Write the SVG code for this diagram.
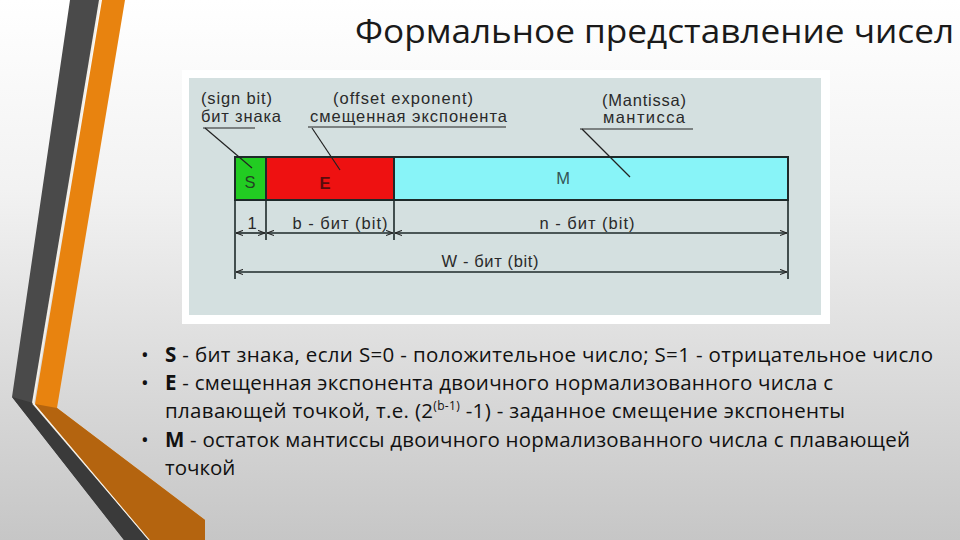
<svg xmlns="http://www.w3.org/2000/svg" width="960" height="540" viewBox="0 0 960 540">
<defs>
<linearGradient id="bg" x1="0" y1="0" x2="0" y2="1">
<stop offset="0" stop-color="#ffffff"/>
<stop offset="0.35" stop-color="#f2f2f2"/>
<stop offset="1" stop-color="#c6c6c6"/>
</linearGradient>
<marker id="ar" viewBox="0 0 8 8" refX="8" refY="4" markerWidth="7" markerHeight="7" orient="auto-start-reverse" markerUnits="userSpaceOnUse">
<path d="M0,1 L8,4 L0,7" fill="none" stroke="#222" stroke-width="1.2"/>
</marker>
<style>
.lbl{font-family:"Liberation Sans",Arial,sans-serif;font-size:16.5px;fill:#2a2a2a}
.dim{stroke:#1e2a2a;stroke-width:1.6;fill:none}
.lead{stroke:#222;stroke-width:1.2;fill:none}
.bul{font-family:"Open Sans","Noto Sans",sans-serif;font-size:20.5px;fill:#111}
.cell{stroke:#1e2a2a;stroke-width:2}
</style>
</defs>
<rect width="960" height="540" fill="url(#bg)"/>
<!-- decorative stripes -->
<polygon points="70,0 100,0 33,403 148,540 124,540 12,397" fill="#4a4a4a"/>
<polygon points="12,397 33,403 148,540 124,540" fill="#3a3a3a"/>
<line x1="100" y1="0" x2="33" y2="403" stroke="#f4f0e8" stroke-width="2"/>
<line x1="33" y1="403" x2="150" y2="540" stroke="#f4f0e8" stroke-width="2"/>
<polygon points="102,0 125,0 57,408 205,520 205,540 150,540 35,404" fill="#e8830f"/>
<polygon points="35,404 57,408 205,520 205,540 150,540" fill="#b4640f"/>
<text x="355" y="43" textLength="599" lengthAdjust="spacingAndGlyphs" font-family="Open Sans,Noto Sans,sans-serif" font-size="33" fill="#1a1a1a">Формальное представление чисел</text>
<!-- image panel -->
<g id="panel">
<rect x="182" y="70" width="648" height="254" fill="#ffffff"/>
<rect x="189" y="78" width="632" height="237" fill="#d4e0e0"/>
</g>
<g id="S"><rect class="cell" x="235" y="157" width="31" height="43" fill="#22cc22"/><text class="lbl" x="250" y="188" text-anchor="middle" style="fill:#224422">S</text></g>
<g id="E"><rect class="cell" x="266" y="157" width="128" height="43" fill="#ee1111"/><text class="lbl" x="325" y="189" text-anchor="middle" font-weight="bold" style="fill:#5a0c0c">E</text></g>
<g id="M"><rect class="cell" x="394" y="157" width="394" height="43" fill="#88f4f8"/><text class="lbl" x="563" y="184" text-anchor="middle" style="fill:#335555">M</text></g>
<g id="sign-label">
<text class="lbl" x="201" y="104" textLength="71">(sign bit)</text>
<text class="lbl" x="201" y="122" textLength="80">бит знака</text>
<line class="lead" x1="203" y1="128" x2="255" y2="128"/>
</g>
<g id="exp-label">
<text class="lbl" x="333" y="104" textLength="140">(offset exponent)</text>
<text class="lbl" x="310" y="122" textLength="197">смещенная экспонента</text>
<line class="lead" x1="308" y1="127" x2="506" y2="127"/>
</g>
<g id="mant-label">
<text class="lbl" x="602" y="106" textLength="84">(Mantissa)</text>
<text class="lbl" x="603" y="123" textLength="82">мантисса</text>
<line class="lead" x1="580" y1="129" x2="693" y2="129"/>
</g>
<g id="connectors">
<line class="lead" x1="205" y1="128" x2="252" y2="168"/>
<line class="lead" x1="312" y1="128" x2="340" y2="170"/>
<line class="lead" x1="582" y1="129" x2="630" y2="177"/>
<line class="dim" x1="235" y1="200" x2="235" y2="279"/>
<line class="dim" x1="266" y1="200" x2="266" y2="240"/>
<line class="dim" x1="394" y1="200" x2="394" y2="240"/>
<line class="dim" x1="788" y1="200" x2="788" y2="279"/>
<line class="dim" x1="236" y1="233" x2="265" y2="233" marker-start="url(#ar)" marker-end="url(#ar)"/>
<line class="dim" x1="267" y1="233" x2="393" y2="233" marker-start="url(#ar)" marker-end="url(#ar)"/>
<line class="dim" x1="395" y1="233" x2="787" y2="233" marker-start="url(#ar)" marker-end="url(#ar)"/>
<line class="dim" x1="236" y1="272" x2="787" y2="272" marker-start="url(#ar)" marker-end="url(#ar)"/>
</g>
<g id="dims">
<text class="lbl" x="252" y="229" text-anchor="middle">1</text>
<text class="lbl" x="340" y="229" text-anchor="middle" textLength="95">b - бит (bit)</text>
<text class="lbl" x="587" y="229" text-anchor="middle" textLength="95">n - бит (bit)</text>
<text class="lbl" x="490" y="267" text-anchor="middle" textLength="97">W - бит (bit)</text>
</g>
<!-- bullets -->
<g id="bullets">
<text class="bul" x="141" y="362">•</text>
<text class="bul" x="165" y="362" textLength="768"><tspan font-weight="bold">S</tspan> - бит знака, если S=0 - положительное число; S=1 - отрицательное число</text>
<text class="bul" x="141" y="390">•</text>
<text class="bul" x="165" y="390" textLength="668"><tspan font-weight="bold">E</tspan> - смещенная экспонента двоичного нормализованного числа с</text>
<text class="bul" x="165" y="418" textLength="680">плавающей точкой, т.е. (2<tspan font-size="12" dy="-8">(b-1)</tspan><tspan dy="8"> -1) - заданное смещение экспоненты</tspan></text>
<text class="bul" x="141" y="447">•</text>
<text class="bul" x="165" y="447" textLength="745"><tspan font-weight="bold">M</tspan> - остаток мантиссы двоичного нормализованного числа с плавающей</text>
<text class="bul" x="165" y="475">точкой</text>
</g>
</svg>
